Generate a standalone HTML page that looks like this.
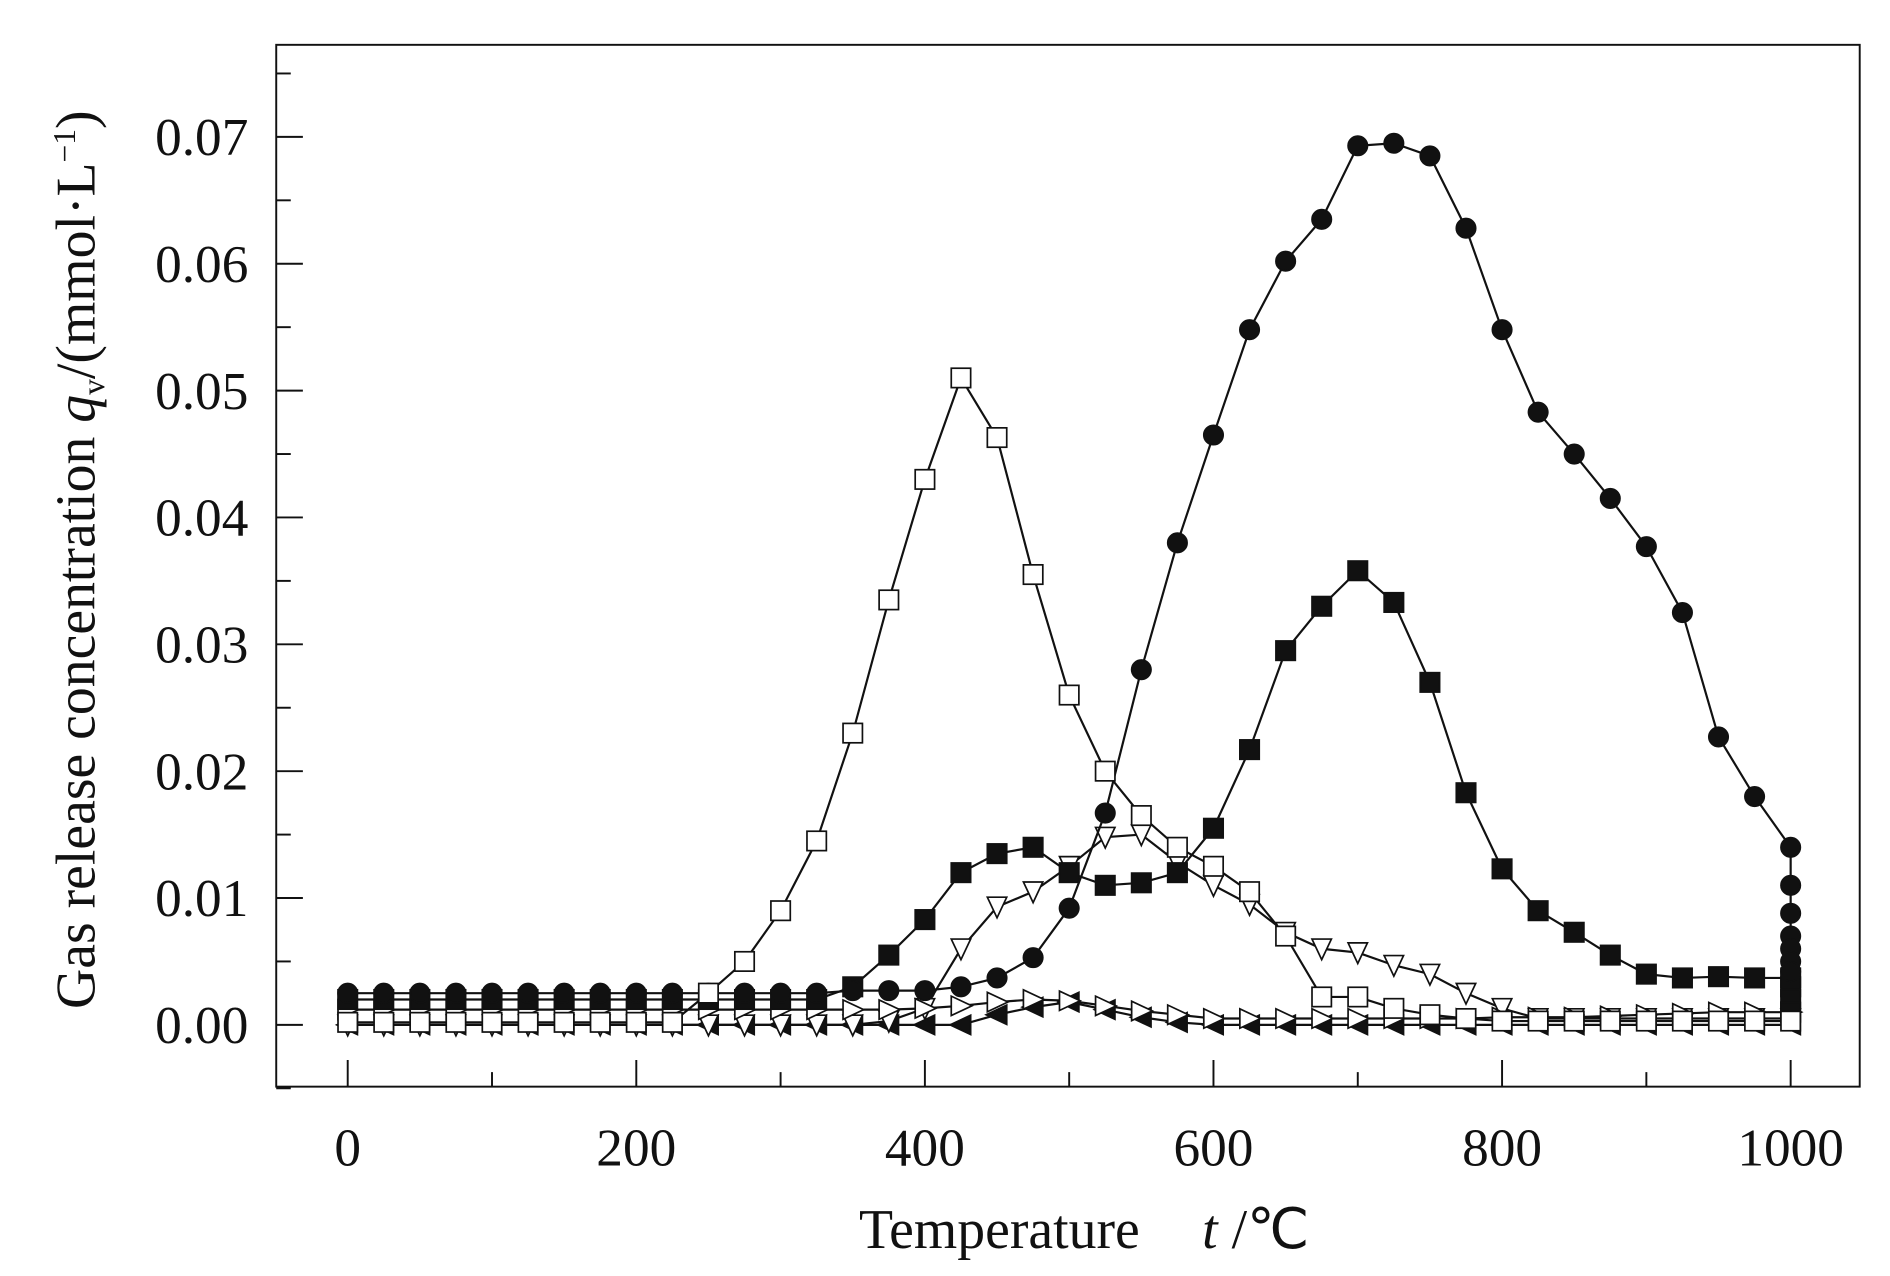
<!DOCTYPE html>
<html><head><meta charset="utf-8"><style>
html,body{margin:0;padding:0;background:#fff;}
svg{display:block;}
text{font-family:"Liberation Serif",serif;fill:#111;}
</style></head><body>
<svg id="chart" width="1890" height="1276" viewBox="0 0 1560 1053.3" preserveAspectRatio="none" xmlns="http://www.w3.org/2000/svg">
<rect x="228" y="37" width="1307" height="860" fill="none" stroke="#111" stroke-width="1.6"/>
<g id="axes"></g>
<g id="series"></g>
<text x="895" y="1030" font-size="46" text-anchor="middle">Temperature <tspan dx="40" font-style="italic">t</tspan> /℃</text>
<text transform="translate(78,462) rotate(-90)" font-size="46" text-anchor="middle">Gas release concentration <tspan font-style="italic">q</tspan><tspan font-size="26" dy="8">v</tspan><tspan dy="-8">/(mmol·L</tspan><tspan font-size="26" dy="-16">−1</tspan><tspan dy="16">)</tspan></text>
</svg>
<script>
const temps = [0,25,50,75,100,125,150,175,200,225,250,275,300,325,350,375,400,425,450,475,500,525,550,575,600,625,650,675,700,725,750,775,800,825,850,875,900,925,950,975,1000];
const openSquare = [0.0002,0.0002,0.0002,0.0002,0.0002,0.0002,0.0002,0.0002,0.0002,0.0002,0.0025,0.005,0.009,0.0145,0.023,0.0335,0.043,0.051,0.0463,0.0355,0.026,0.020,0.0165,0.014,0.0125,0.0105,0.007,0.0022,0.0022,0.0013,0.0008,0.0005,0.0003,0.0003,0.0003,0.0003,0.0003,0.0003,0.0003,0.0003,0.0003];
const filledCircle = [0.0025,0.0025,0.0025,0.0025,0.0025,0.0025,0.0025,0.0025,0.0025,0.0025,0.0025,0.0025,0.0025,0.0025,0.0027,0.0027,0.0027,0.003,0.0037,0.0053,0.0092,0.0167,0.028,0.038,0.0465,0.0548,0.0602,0.0635,0.0693,0.0695,0.0685,0.0628,0.0548,0.0483,0.045,0.0415,0.0377,0.0325,0.0227,0.018,0.014];
const circleTailAt1000 = [0.011,0.0088,0.007,0.006,0.005,0.0042];
const filledSquare = [0.002,0.002,0.002,0.002,0.002,0.002,0.002,0.002,0.002,0.002,0.002,0.002,0.002,0.002,0.003,0.0055,0.0083,0.012,0.0135,0.014,0.012,0.011,0.0112,0.012,0.0155,0.0217,0.0295,0.033,0.0358,0.0333,0.027,0.0183,0.0123,0.009,0.0073,0.0055,0.004,0.0037,0.0038,0.0037,0.0037];
const squareTailAt1000 = [0.003,0.002,0.001];
const downTriangle = [0,0,0,0,0,0,0,0,0,0,0,0,0,0,0,0.0003,0.0013,0.006,0.0093,0.0105,0.0125,0.0148,0.015,0.0128,0.011,0.0095,0.0073,0.006,0.0057,0.0047,0.004,0.0025,0.0013,0.0005,0.0005,0.0005,0.0005,0.0005,0.0005,0.0005,0.0005];
const rightTriangle = [0.0012,0.0012,0.0012,0.0012,0.0012,0.0012,0.0012,0.0012,0.0012,0.0012,0.0012,0.0012,0.0012,0.0012,0.0012,0.0012,0.0013,0.0015,0.0018,0.002,0.0019,0.0015,0.0011,0.0008,0.0005,0.0005,0.0005,0.0005,0.0005,0.0005,0.0005,0.0005,0.0006,0.0006,0.0006,0.0007,0.0008,0.0009,0.001,0.001,0.001];
const leftTriangle = [0,0,0,0,0,0,0,0,0,0,0,0,0,0,0,0,0,0,0.0008,0.0014,0.0018,0.0012,0.0006,0.0002,0,0,0,0,0,0,0,0,0,0,0,0,0,0,0,0,0];
const xTicks = [0,200,400,600,800,1000];
const yTicks = [0.00,0.01,0.02,0.03,0.04,0.05,0.06,0.07];

const NS='http://www.w3.org/2000/svg';
function X(v){return 287+(v/1000)*(1478-287);}
function Y(v){return 846-(v/0.07)*(846-113);}
function mk(tag,attrs,parent){const e=document.createElementNS(NS,tag);for(const k in attrs)e.setAttribute(k,attrs[k]);parent.appendChild(e);return e;}
const axes=document.getElementById('axes');
for(let v=0;v<=1000;v+=100){
  const major=v%200===0;
  const t=mk('line',{x1:X(v),x2:X(v),y1:897,y2:897-(major?22:12),stroke:'#111','stroke-width':1.6},axes);
  
  
}
xTicks.forEach(v=>{
  const t=mk('text',{x:X(v),y:962,'font-size':44,'text-anchor':'middle'},axes);
  t.textContent=String(v);
  
  
});
for(let i=-1;i<=15;i++){
  const v=i*0.005;
  const major=i%2===0;
  const t=mk('line',{x1:228,x2:228+(major?22:12),y1:Y(v),y2:Y(v),stroke:'#111','stroke-width':1.6},axes);
  
  
}
yTicks.forEach(v=>{
  const t=mk('text',{x:205,y:Y(v)+15,'font-size':44,'text-anchor':'end'},axes);
  t.textContent=v.toFixed(2);
  
  
});
const S=document.getElementById('series');
function marker(shape,x,y,g){
  const r=8;let e;
  if(shape==='sq'||shape==='fsq') e=mk('rect',{x:x-r,y:y-r,width:2*r,height:2*r},g);
  else if(shape==='circ') e=mk('circle',{cx:x,cy:y,r:r},g);
  else if(shape==='down') e=mk('polygon',{points:`${x-r},${y-r} ${x+r},${y-r} ${x},${y+r+1}`},g);
  else if(shape==='right') e=mk('polygon',{points:`${x-r},${y-r} ${x-r},${y+r} ${x+r+1},${y}`},g);
  else e=mk('polygon',{points:`${x+r},${y-r} ${x+r},${y+r} ${x-r-1},${y}`},g);
  const filled=(shape==='fsq'||shape==='circ'||shape==='left');
  e.setAttribute('fill',filled?'#111':'#fff');
  e.setAttribute('stroke','#111');e.setAttribute('stroke-width','1.4');
  return e;
}
function series(name,vals,shape,tail){
  const g=mk('g',{},S);
  
  
  let pts=vals.map((v,i)=>[X(temps[i]),Y(v)]);
  const tailPts=(tail||[]).map(v=>[X(1000),Y(v)]);
  const all=pts.concat(tailPts);
  const line=mk('polyline',{points:all.map(p=>p.join(',')).join(' '),fill:'none',stroke:'#111','stroke-width':1.8},g);
  
  
  all.forEach(p=>{
    const m=marker(shape,p[0],p[1],g);
    
    
  });
}
series('series-left-triangle',leftTriangle,'left');
series('series-down-triangle',downTriangle,'down');
series('series-right-triangle',rightTriangle,'right');
series('series-filled-square',filledSquare,'fsq',squareTailAt1000);
series('series-filled-circle',filledCircle,'circ',circleTailAt1000);
series('series-open-square',openSquare,'sq');
</script>
</body></html>
